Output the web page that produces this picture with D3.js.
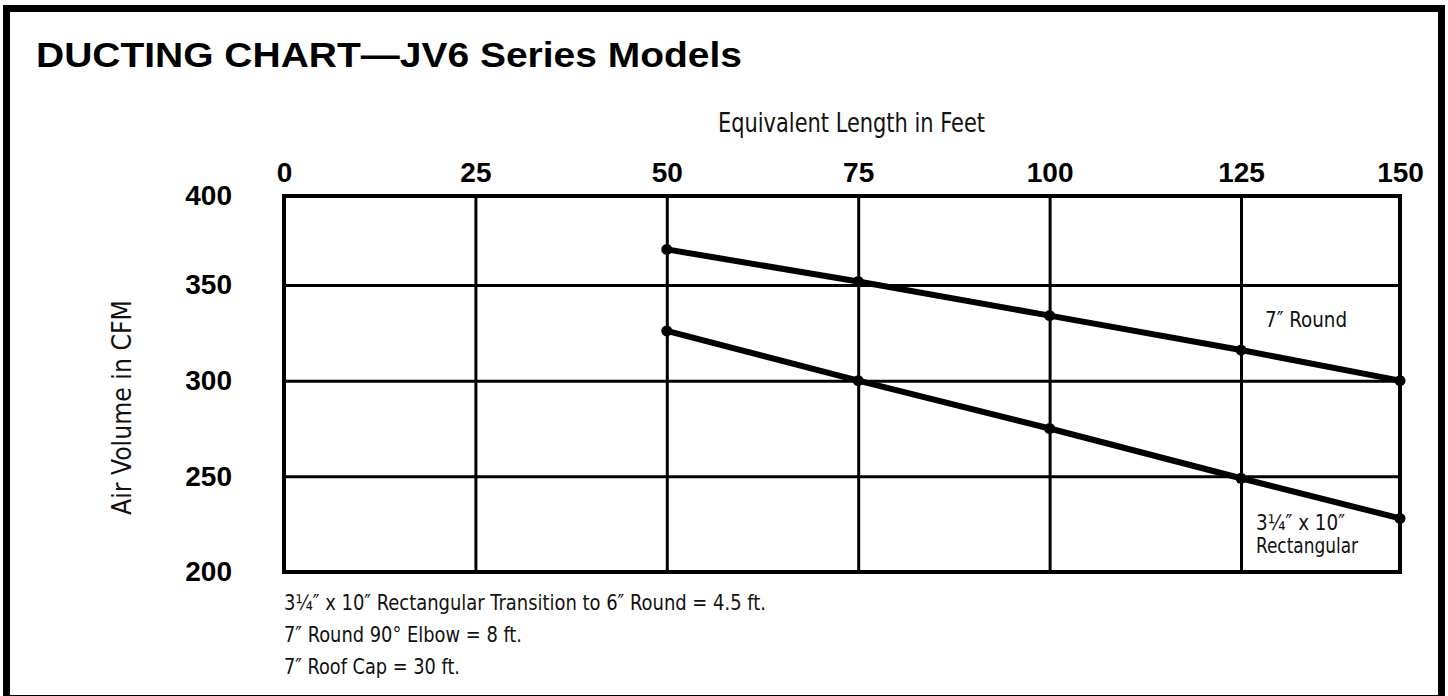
<!DOCTYPE html>
<html>
<head>
<meta charset="utf-8">
<script src="https://d3js.org/d3.v7.min.js"></script>
<style>
  body { margin: 0; background: #fff; }
  .tick text { font-family: "Liberation Sans", Arial, sans-serif; font-weight: bold; font-size: 28px; fill: #000; }
  .tick line { stroke: #000; stroke-width: 3; }
  .domain { display: none; }
  .light { font-family: "DejaVu Sans Condensed", "Liberation Sans Narrow", sans-serif; fill: #111; }
</style>
</head>
<body>
<div id="chart"></div>
<script>
// data
const lengths = [50, 75, 100, 125, 150];
const round7 = [370, 352, 334, 316, 300];
const rect310 = [326, 300, 275, 249, 228];
const xTicks = [0, 25, 50, 75, 100, 125, 150];
const yTicks = [200, 250, 300, 350, 400];
const notes = [
  "3\u00BC\u2033 x 10\u2033 Rectangular Transition to 6\u2033 Round = 4.5 ft.",
  "7\u2033 Round 90\u00B0 Elbow = 8 ft.",
  "7\u2033 Roof Cap = 30 ft."
];
const noteWidths = [482, 238, 176];

const W = 1448, H = 696;
const pLeft = 284, pRight = 1400, pTop = 196, pBottom = 572;

const svg = d3.select("#chart").append("svg")
  .attr("width", W).attr("height", H);

// outer frame
svg.append("rect")
  .attr("x", 6.5).attr("y", 8.5)
  .attr("width", 1435).attr("height", 690)
  .attr("fill", "none").attr("stroke", "#000").attr("stroke-width", 7);

svg.append("text")
  .attr("x", 36).attr("y", 67)
  .attr("textLength", 706).attr("lengthAdjust", "spacingAndGlyphs")
  .style("font-family", "Liberation Sans, Arial, sans-serif")
  .style("font-weight", "bold").style("font-size", "35px")
  .text("DUCTING CHART\u2014JV6 Series Models");

// the printed grid is not quite even, so the scales are piecewise
const x = d3.scaleLinear().domain([0, 125, 150]).range([pLeft, 1241, pRight]);
const y = d3.scaleLinear().domain([200, 350, 400]).range([pBottom, 285, pTop]);

svg.append("g")
  .attr("transform", `translate(0,${pTop})`)
  .call(d3.axisTop(x).tickValues(xTicks).tickSize(-(pBottom - pTop)).tickPadding(14));

svg.append("g")
  .attr("transform", `translate(${pLeft},0)`)
  .call(d3.axisLeft(y).tickValues(yTicks).tickSize(-(pRight - pLeft)).tickPadding(52));

svg.append("rect")
  .attr("x", pLeft).attr("y", pTop)
  .attr("width", pRight - pLeft).attr("height", pBottom - pTop)
  .attr("fill", "none").attr("stroke", "#000").attr("stroke-width", 4);

const line = d3.line().x((d, i) => x(lengths[i])).y(d => y(d));

[round7, rect310].forEach(s => {
  svg.append("path").datum(s)
    .attr("d", line)
    .attr("fill", "none").attr("stroke", "#000").attr("stroke-width", 6);
  svg.selectAll(null).data(s).enter().append("circle")
    .attr("cx", (d, i) => x(lengths[i])).attr("cy", d => y(d))
    .attr("r", 5.5).attr("fill", "#000");
});

function light(txt, size, len) {
  return svg.append("text").attr("class", "light")
    .style("font-size", size + "px")
    .attr("textLength", len).attr("lengthAdjust", "spacingAndGlyphs")
    .text(txt);
}

light("Equivalent Length in Feet", 27, 267)
  .attr("x", 718).attr("y", 132);

light("Air Volume in CFM", 27, 215)
  .attr("transform", "translate(131,515) rotate(-90)");

light("7\u2033 Round", 22, 82).attr("x", 1265).attr("y", 327);
light("3\u00BC\u2033 x 10\u2033", 22, 89).attr("x", 1256).attr("y", 530);
light("Rectangular", 22, 102).attr("x", 1256).attr("y", 553);

notes.forEach((n, i) => {
  light(n, 22, noteWidths[i]).attr("x", pLeft).attr("y", 610 + i * 32);
});
</script>
</body>
</html>
